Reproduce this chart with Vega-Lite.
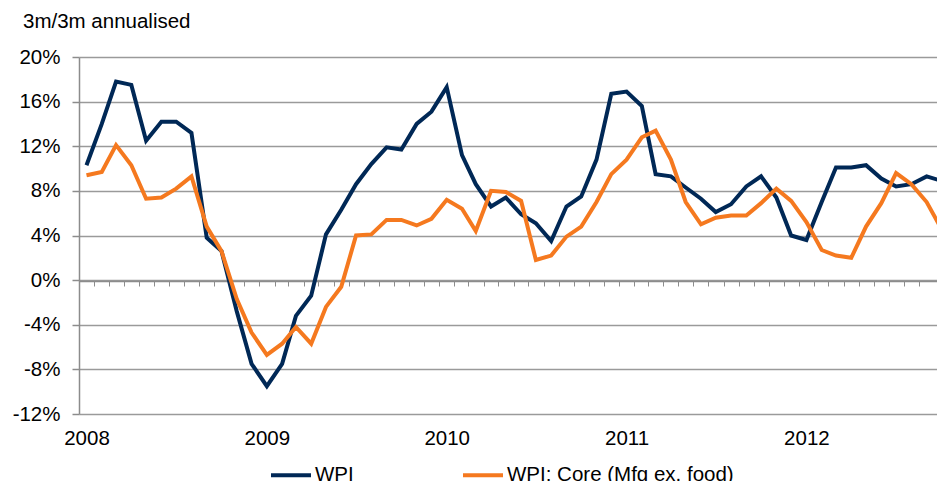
{
  "$schema": "https://vega.github.io/schema/vega-lite/v6.json",
  "width": 858,
  "height": 357,
  "autosize": "none",
  "padding": {"left": 79, "top": 57, "right": 0, "bottom": 67},
  "background": "white",
  "config": {
    "view": {"stroke": null},
    "font": "Liberation Sans",
    "axis": {"labelFont": "Liberation Sans", "labelFontSize": 20.5, "labelColor": "#000000"}
  },
  "title": {
    "text": "3m/3m annualised",
    "anchor": "start",
    "frame": "group",
    "dx": -56,
    "offset": 15,
    "fontSize": 20.5,
    "fontWeight": "normal",
    "font": "Liberation Sans",
    "color": "#000000"
  },
  "data": {
    "values": [
      {"date": "2008-01-01", "series": "WPI", "value": 10.3},
      {"date": "2008-02-01", "series": "WPI", "value": 14.0},
      {"date": "2008-03-01", "series": "WPI", "value": 17.8},
      {"date": "2008-04-01", "series": "WPI", "value": 17.5},
      {"date": "2008-05-01", "series": "WPI", "value": 12.5},
      {"date": "2008-06-01", "series": "WPI", "value": 14.2},
      {"date": "2008-07-01", "series": "WPI", "value": 14.2},
      {"date": "2008-08-01", "series": "WPI", "value": 13.2},
      {"date": "2008-09-01", "series": "WPI", "value": 3.8},
      {"date": "2008-10-01", "series": "WPI", "value": 2.6},
      {"date": "2008-11-01", "series": "WPI", "value": -2.8},
      {"date": "2008-12-01", "series": "WPI", "value": -7.5},
      {"date": "2009-01-01", "series": "WPI", "value": -9.5},
      {"date": "2009-02-01", "series": "WPI", "value": -7.5},
      {"date": "2009-03-01", "series": "WPI", "value": -3.2},
      {"date": "2009-04-01", "series": "WPI", "value": -1.4},
      {"date": "2009-05-01", "series": "WPI", "value": 4.1},
      {"date": "2009-06-01", "series": "WPI", "value": 6.3},
      {"date": "2009-07-01", "series": "WPI", "value": 8.6},
      {"date": "2009-08-01", "series": "WPI", "value": 10.4},
      {"date": "2009-09-01", "series": "WPI", "value": 11.9},
      {"date": "2009-10-01", "series": "WPI", "value": 11.7},
      {"date": "2009-11-01", "series": "WPI", "value": 14.0},
      {"date": "2009-12-01", "series": "WPI", "value": 15.1},
      {"date": "2010-01-01", "series": "WPI", "value": 17.3},
      {"date": "2010-02-01", "series": "WPI", "value": 11.2},
      {"date": "2010-03-01", "series": "WPI", "value": 8.6},
      {"date": "2010-04-01", "series": "WPI", "value": 6.6},
      {"date": "2010-05-01", "series": "WPI", "value": 7.4},
      {"date": "2010-06-01", "series": "WPI", "value": 5.9},
      {"date": "2010-07-01", "series": "WPI", "value": 5.1},
      {"date": "2010-08-01", "series": "WPI", "value": 3.5},
      {"date": "2010-09-01", "series": "WPI", "value": 6.6},
      {"date": "2010-10-01", "series": "WPI", "value": 7.5},
      {"date": "2010-11-01", "series": "WPI", "value": 10.8},
      {"date": "2010-12-01", "series": "WPI", "value": 16.7},
      {"date": "2011-01-01", "series": "WPI", "value": 16.9},
      {"date": "2011-02-01", "series": "WPI", "value": 15.6},
      {"date": "2011-03-01", "series": "WPI", "value": 9.5},
      {"date": "2011-04-01", "series": "WPI", "value": 9.3},
      {"date": "2011-05-01", "series": "WPI", "value": 8.3},
      {"date": "2011-06-01", "series": "WPI", "value": 7.3},
      {"date": "2011-07-01", "series": "WPI", "value": 6.1},
      {"date": "2011-08-01", "series": "WPI", "value": 6.8},
      {"date": "2011-09-01", "series": "WPI", "value": 8.4},
      {"date": "2011-10-01", "series": "WPI", "value": 9.3},
      {"date": "2011-11-01", "series": "WPI", "value": 7.4},
      {"date": "2011-12-01", "series": "WPI", "value": 4.0},
      {"date": "2012-01-01", "series": "WPI", "value": 3.6},
      {"date": "2012-02-01", "series": "WPI", "value": 7.0},
      {"date": "2012-03-01", "series": "WPI", "value": 10.1},
      {"date": "2012-04-01", "series": "WPI", "value": 10.1},
      {"date": "2012-05-01", "series": "WPI", "value": 10.3},
      {"date": "2012-06-01", "series": "WPI", "value": 9.1},
      {"date": "2012-07-01", "series": "WPI", "value": 8.4},
      {"date": "2012-08-01", "series": "WPI", "value": 8.6},
      {"date": "2012-09-01", "series": "WPI", "value": 9.3},
      {"date": "2012-10-01", "series": "WPI", "value": 8.9},
      {"date": "2008-01-01", "series": "WPI: Core (Mfg ex. food)", "value": 9.4},
      {"date": "2008-02-01", "series": "WPI: Core (Mfg ex. food)", "value": 9.7},
      {"date": "2008-03-01", "series": "WPI: Core (Mfg ex. food)", "value": 12.1},
      {"date": "2008-04-01", "series": "WPI: Core (Mfg ex. food)", "value": 10.3},
      {"date": "2008-05-01", "series": "WPI: Core (Mfg ex. food)", "value": 7.3},
      {"date": "2008-06-01", "series": "WPI: Core (Mfg ex. food)", "value": 7.4},
      {"date": "2008-07-01", "series": "WPI: Core (Mfg ex. food)", "value": 8.2},
      {"date": "2008-08-01", "series": "WPI: Core (Mfg ex. food)", "value": 9.3},
      {"date": "2008-09-01", "series": "WPI: Core (Mfg ex. food)", "value": 4.8},
      {"date": "2008-10-01", "series": "WPI: Core (Mfg ex. food)", "value": 2.6},
      {"date": "2008-11-01", "series": "WPI: Core (Mfg ex. food)", "value": -1.7},
      {"date": "2008-12-01", "series": "WPI: Core (Mfg ex. food)", "value": -4.7},
      {"date": "2009-01-01", "series": "WPI: Core (Mfg ex. food)", "value": -6.7},
      {"date": "2009-02-01", "series": "WPI: Core (Mfg ex. food)", "value": -5.7},
      {"date": "2009-03-01", "series": "WPI: Core (Mfg ex. food)", "value": -4.2},
      {"date": "2009-04-01", "series": "WPI: Core (Mfg ex. food)", "value": -5.7},
      {"date": "2009-05-01", "series": "WPI: Core (Mfg ex. food)", "value": -2.4},
      {"date": "2009-06-01", "series": "WPI: Core (Mfg ex. food)", "value": -0.6},
      {"date": "2009-07-01", "series": "WPI: Core (Mfg ex. food)", "value": 4.0},
      {"date": "2009-08-01", "series": "WPI: Core (Mfg ex. food)", "value": 4.1},
      {"date": "2009-09-01", "series": "WPI: Core (Mfg ex. food)", "value": 5.4},
      {"date": "2009-10-01", "series": "WPI: Core (Mfg ex. food)", "value": 5.4},
      {"date": "2009-11-01", "series": "WPI: Core (Mfg ex. food)", "value": 4.9},
      {"date": "2009-12-01", "series": "WPI: Core (Mfg ex. food)", "value": 5.5},
      {"date": "2010-01-01", "series": "WPI: Core (Mfg ex. food)", "value": 7.2},
      {"date": "2010-02-01", "series": "WPI: Core (Mfg ex. food)", "value": 6.4},
      {"date": "2010-03-01", "series": "WPI: Core (Mfg ex. food)", "value": 4.4},
      {"date": "2010-04-01", "series": "WPI: Core (Mfg ex. food)", "value": 8.0},
      {"date": "2010-05-01", "series": "WPI: Core (Mfg ex. food)", "value": 7.9},
      {"date": "2010-06-01", "series": "WPI: Core (Mfg ex. food)", "value": 7.1},
      {"date": "2010-07-01", "series": "WPI: Core (Mfg ex. food)", "value": 1.8},
      {"date": "2010-08-01", "series": "WPI: Core (Mfg ex. food)", "value": 2.2},
      {"date": "2010-09-01", "series": "WPI: Core (Mfg ex. food)", "value": 3.9},
      {"date": "2010-10-01", "series": "WPI: Core (Mfg ex. food)", "value": 4.8},
      {"date": "2010-11-01", "series": "WPI: Core (Mfg ex. food)", "value": 7.0},
      {"date": "2010-12-01", "series": "WPI: Core (Mfg ex. food)", "value": 9.5},
      {"date": "2011-01-01", "series": "WPI: Core (Mfg ex. food)", "value": 10.8},
      {"date": "2011-02-01", "series": "WPI: Core (Mfg ex. food)", "value": 12.8},
      {"date": "2011-03-01", "series": "WPI: Core (Mfg ex. food)", "value": 13.4},
      {"date": "2011-04-01", "series": "WPI: Core (Mfg ex. food)", "value": 10.8},
      {"date": "2011-05-01", "series": "WPI: Core (Mfg ex. food)", "value": 7.0},
      {"date": "2011-06-01", "series": "WPI: Core (Mfg ex. food)", "value": 5.0},
      {"date": "2011-07-01", "series": "WPI: Core (Mfg ex. food)", "value": 5.6},
      {"date": "2011-08-01", "series": "WPI: Core (Mfg ex. food)", "value": 5.8},
      {"date": "2011-09-01", "series": "WPI: Core (Mfg ex. food)", "value": 5.8},
      {"date": "2011-10-01", "series": "WPI: Core (Mfg ex. food)", "value": 6.9},
      {"date": "2011-11-01", "series": "WPI: Core (Mfg ex. food)", "value": 8.2},
      {"date": "2011-12-01", "series": "WPI: Core (Mfg ex. food)", "value": 7.1},
      {"date": "2012-01-01", "series": "WPI: Core (Mfg ex. food)", "value": 5.2},
      {"date": "2012-02-01", "series": "WPI: Core (Mfg ex. food)", "value": 2.7},
      {"date": "2012-03-01", "series": "WPI: Core (Mfg ex. food)", "value": 2.2},
      {"date": "2012-04-01", "series": "WPI: Core (Mfg ex. food)", "value": 2.0},
      {"date": "2012-05-01", "series": "WPI: Core (Mfg ex. food)", "value": 4.8},
      {"date": "2012-06-01", "series": "WPI: Core (Mfg ex. food)", "value": 6.9},
      {"date": "2012-07-01", "series": "WPI: Core (Mfg ex. food)", "value": 9.6},
      {"date": "2012-08-01", "series": "WPI: Core (Mfg ex. food)", "value": 8.6},
      {"date": "2012-09-01", "series": "WPI: Core (Mfg ex. food)", "value": 7.0},
      {"date": "2012-10-01", "series": "WPI: Core (Mfg ex. food)", "value": 4.6}
    ]
  },
  "mark": {"type": "line", "strokeWidth": 4, "clip": true, "strokeJoin": "miter"},
  "encoding": {
    "x": {
      "field": "date",
      "type": "temporal",
      "scale": {
        "type": "utc",
        "domain": [
          {"year": 2007, "month": 12, "date": 16, "hours": 19, "utc": true},
          {"year": 2012, "month": 9, "date": 22, "utc": true}
        ]
      },
      "axis": {
        "orient": "bottom",
        "offset": -133,
        "title": null,
        "grid": false,
        "domain": true,
        "domainColor": "#8c8c8c",
        "domainWidth": 1.5,
        "ticks": true,
        "tickColor": "#8c8c8c",
        "tickWidth": 1,
        "tickSize": 5,
        "tickCount": {"interval": "month", "step": 1},
        "tickOffset": -7.5,
        "labelOffset": 7.5,
        "labelPadding": 142,
        "labelAlign": "center",
        "labelOverlap": false,
        "labelFlush": false,
        "labelBound": false,
        "labelExpr": "utcmonth(datum.value) == 0 ? utcFormat(datum.value, '%Y') : ''"
      }
    },
    "y": {
      "field": "value",
      "type": "quantitative",
      "scale": {"domain": [-12, 20], "nice": false, "zero": false},
      "axis": {
        "title": null,
        "values": [-12, -8, -4, 0, 4, 8, 12, 16, 20],
        "labelExpr": "datum.value + '%'",
        "grid": true,
        "gridColor": "#9a9a9a",
        "gridWidth": 1.5,
        "domain": true,
        "domainColor": "#8c8c8c",
        "domainWidth": 1.5,
        "tickColor": "#8c8c8c",
        "tickSize": 7,
        "tickWidth": 1.5,
        "labelPadding": 12
      }
    },
    "color": {
      "field": "series",
      "type": "nominal",
      "scale": {
        "domain": ["WPI", "WPI: Core (Mfg ex. food)"],
        "range": ["#002856", "#f5791f"]
      },
      "legend": {
        "title": null,
        "orient": "none",
        "direction": "horizontal",
        "legendX": 190,
        "legendY": 396,
        "padding": 0,
        "symbolType": "stroke",
        "symbolSize": 1600,
        "symbolStrokeWidth": 4,
        "labelFontSize": 20.5,
        "labelFont": "Liberation Sans",
        "labelColor": "#000000",
        "labelOffset": 2,
        "columnPadding": 101,
        "labelLimit": 400
      }
    }
  }
}
